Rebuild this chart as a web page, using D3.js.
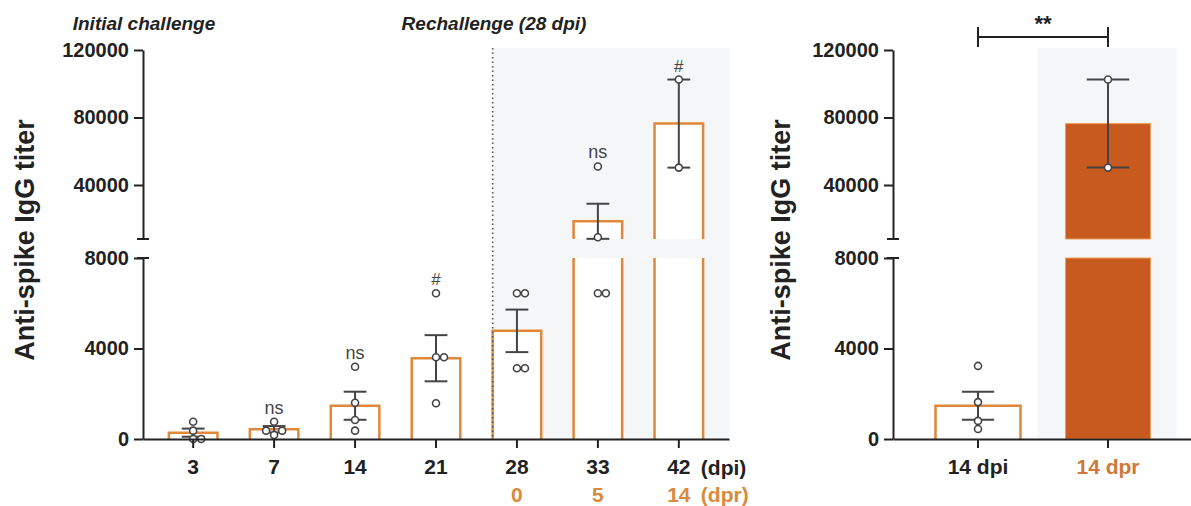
<!DOCTYPE html>
<html>
<head>
<meta charset="utf-8">
<script src="https://cdn.jsdelivr.net/npm/d3@7"></script>
<style>
  body { margin: 0; background: #fff; }
  svg { font-family: "Liberation Sans", Arial, sans-serif; }
</style>
</head>
<body>
<div id="plot"></div>
<script>
// ---- data ----
const dpiLabels = ['3', '7', '14', '21', '28', '33', '42'];
const dprLabels = ['', '', '', '', '0', '5', '14'];
const meanTiter = [280, 430, 1470, 3570, 4780, 18500, 76400];
const semTiter = [180, 140, 620, 1020, 940, 10400, 26100];
const pointsTiter = [
  [0, 0, 370, 765],
  [180, 370, 370, 765],
  [370, 840, 1605, 3195],
  [1580, 3610, 3610, 6440],
  [3125, 3125, 6440, 6440],
  [6440, 6440, 9000, 51000],
  [50300, 102500]
];
const sigMarks = ['', 'ns', 'ns', '#', '', 'ns', '#'];

const compLabels = ['14 dpi', '14 dpr'];
const compMean = [1470, 76400];
const compSem = [620, 26100];
const compPoints = [
  [440, 800, 1630, 3230],
  [50300, 102500]
];

const lowTicks = [0, 4000, 8000];
const highTicks = [40000, 80000, 120000];
const BREAK = 8000;

// ---- page ----
const w = 1191, h = 506;
const orange = '#e0873a';
const dark = '#222';
const grey = '#444';

const svg = d3.select('#plot').append('svg')
  .attr('width', w).attr('height', h);

const yLow = d3.scaleLinear().domain([0, BREAK]).range([439, 258]);
const yHigh = d3.scaleLinear().domain([BREAK, 120000]).range([239, 50]);
const yv = v => v <= BREAK ? yLow(v) : yHigh(v);

const xL = d3.scaleBand().domain(dpiLabels).range([143, 729])
  .paddingInner(0.4).paddingOuter(0.32);
const xR = d3.scaleBand().domain(compLabels).range([893, 1193])
  .paddingInner(0.346).paddingOuter(0.327);

// shaded rechallenge regions
const topY = yHigh(120000) - 2;
svg.append('rect')
  .attr('x', xL('28')).attr('y', topY)
  .attr('width', xL.range()[1] - xL('28')).attr('height', yLow(0) - topY)
  .attr('fill', '#f5f6f8');
const gapR = xR.step() * xR.paddingInner();
svg.append('rect')
  .attr('x', xR('14 dpr') - gapR * 0.62).attr('y', topY)
  .attr('width', xR.bandwidth() + gapR * 1.2).attr('height', yLow(0) - topY)
  .attr('fill', '#f5f6f8');

function drawBar(g, x, bw, mean, filled) {
  const fill = '#c85a20';
  if (filled) {
    g.append('rect').attr('x', x).attr('width', bw)
      .attr('y', yLow(Math.min(mean, BREAK))).attr('height', yLow(0) - yLow(Math.min(mean, BREAK)))
      .attr('fill', fill).attr('stroke', '#f0a060').attr('stroke-width', 1);
    if (mean > BREAK) {
      g.append('rect').attr('x', x).attr('width', bw)
        .attr('y', yHigh(mean)).attr('height', yHigh(BREAK) - yHigh(mean))
        .attr('fill', fill).attr('stroke', '#f0a060').attr('stroke-width', 1);
    }
    return;
  }
  // white interior first, then open outline
  const yTopLow = yLow(Math.min(mean, BREAK));
  g.append('rect').attr('x', x).attr('width', bw)
    .attr('y', yTopLow).attr('height', yLow(0) - yTopLow).attr('fill', '#fff');
  if (mean > BREAK) {
    g.append('rect').attr('x', x).attr('width', bw)
      .attr('y', yHigh(mean)).attr('height', yHigh(BREAK) - yHigh(mean)).attr('fill', '#fff');
  }
  const st = p => p.attr('fill', 'none').attr('stroke', orange).attr('stroke-width', 2.5);
  if (mean <= BREAK) {
    st(g.append('path').attr('d', `M${x},${yLow(0)}V${yLow(mean)}H${x + bw}V${yLow(0)}`));
  } else {
    st(g.append('path').attr('d', `M${x},${yLow(0)}V${yLow(BREAK)}M${x + bw},${yLow(0)}V${yLow(BREAK)}`));
    st(g.append('path').attr('d', `M${x},${yHigh(BREAK)}V${yHigh(mean)}H${x + bw}V${yHigh(BREAK)}`));
  }
}

function drawErr(g, cx, cap, mean, sem) {
  const lo = mean - sem, hi = mean + sem;
  g.append('line').attr('x1', cx).attr('x2', cx)
    .attr('y1', yv(lo)).attr('y2', yv(hi))
    .attr('stroke', grey).attr('stroke-width', 2);
  [lo, hi].forEach(v => {
    g.append('line').attr('x1', cx - cap / 2).attr('x2', cx + cap / 2)
      .attr('y1', yv(v)).attr('y2', yv(v))
      .attr('stroke', grey).attr('stroke-width', 2);
  });
}

// simple swarm so equal values sit side by side
function swarm(vals, cx) {
  const placed = [];
  const steps = [0, 8, -8, 16, -16, 24, -24];
  vals.slice().sort((a, b) => a - b).forEach(v => {
    const y = yv(v);
    for (const s of steps) {
      const x = cx + s;
      if (placed.every(p => Math.hypot(p.x - x, p.y - y) >= 7.5)) {
        placed.push({ x, y, v });
        break;
      }
    }
  });
  return placed;
}

function drawPoints(g, vals, cx) {
  const pts = swarm(vals, cx);
  g.selectAll(null).data(pts).enter().append('circle')
    .attr('cx', d => d.x).attr('cy', d => d.y).attr('r', 3.5)
    .attr('fill', '#fff').attr('stroke', grey).attr('stroke-width', 1.6);
  return pts;
}

// ---- left panel ----
const gL = svg.append('g');
dpiLabels.forEach((k, i) => {
  drawBar(gL, xL(k), xL.bandwidth(), meanTiter[i], false);
});

// dotted divider (drawn over bar 28's left edge)
svg.append('line')
  .attr('x1', xL('28')).attr('x2', xL('28'))
  .attr('y1', topY).attr('y2', yLow(0))
  .attr('stroke', '#555').attr('stroke-width', 1.6)
  .attr('stroke-dasharray', '1.5,3');

dpiLabels.forEach((k, i) => {
  const cx = xL(k) + xL.bandwidth() / 2;
  drawErr(gL, cx, xL.bandwidth() * 0.47, meanTiter[i], semTiter[i]);
  const pts = drawPoints(gL, pointsTiter[i], cx);
  if (sigMarks[i]) {
    const topPt = d3.min(pts, d => d.y);
    gL.append('text').attr('x', cx).attr('y', topPt - 8)
      .attr('text-anchor', 'middle').attr('fill', grey)
      .attr('font-size', sigMarks[i] === '#' ? 17 : 18)
      .text(sigMarks[i]);
  }
});

// ---- right panel ----
const gR = svg.append('g');
compLabels.forEach((k, i) => {
  drawBar(gR, xR(k), xR.bandwidth(), compMean[i], i === 1);
});
compLabels.forEach((k, i) => {
  const cx = xR(k) + xR.bandwidth() / 2;
  drawErr(gR, cx, xR.bandwidth() * (i === 0 ? 0.38 : 0.5), compMean[i], compSem[i]);
  drawPoints(gR, compPoints[i], cx);
});

// ---- axes ----
function yAxes(x0) {
  const a1 = svg.append('g').attr('transform', `translate(${x0},0)`)
    .call(d3.axisLeft(yLow).tickValues(lowTicks).tickFormat(d3.format('d'))
      .tickSize(9).tickSizeOuter(0).tickPadding(5));
  const a2 = svg.append('g').attr('transform', `translate(${x0},0)`)
    .call(d3.axisLeft(yHigh).tickValues(highTicks).tickFormat(d3.format('d'))
      .tickSize(9).tickSizeOuter(0).tickPadding(5));
  [a1, a2].forEach(a => {
    a.selectAll('path,line').attr('stroke', dark).attr('stroke-width', 2);
    a.selectAll('text').attr('font-size', 20).attr('font-weight', 'bold').attr('fill', dark);
  });
  // break caps
  [yHigh(BREAK), yLow(BREAK)].forEach(y => {
    svg.append('line').attr('x1', x0 - 6).attr('x2', x0 + 6)
      .attr('y1', y).attr('y2', y).attr('stroke', dark).attr('stroke-width', 2);
  });
}
yAxes(143);
yAxes(893);

function xAxis(scale) {
  const a = svg.append('g').attr('transform', `translate(0,${yLow(0)})`)
    .call(d3.axisBottom(scale).tickSize(9).tickSizeOuter(0).tickPadding(11));
  a.selectAll('path,line').attr('stroke', dark).attr('stroke-width', 2);
  a.selectAll('text').attr('font-size', 21).attr('font-weight', 'bold').attr('fill', dark);
  return a;
}
xAxis(xL);
const axR = xAxis(xR);
axR.selectAll('text').attr('fill', d => d === '14 dpr' ? '#d0783a' : dark);

// dpr row + unit labels
const c42 = xL('42') + xL.bandwidth() / 2;
svg.append('g').selectAll('text').data(dprLabels.filter(d => d !== ''))
  .enter().append('text')
  .attr('x', d => xL(dpiLabels[dprLabels.indexOf(d)]) + xL.bandwidth() / 2)
  .attr('y', 502).attr('text-anchor', 'middle')
  .attr('font-size', 21).attr('font-weight', 'bold').attr('fill', '#d98a3d')
  .text(d => d);
svg.append('text').attr('x', c42 + 22).attr('y', 475)
  .attr('font-size', 21).attr('font-weight', 'bold').attr('fill', dark).text('(dpi)');
svg.append('text').attr('x', c42 + 22).attr('y', 502)
  .attr('font-size', 21).attr('font-weight', 'bold').attr('fill', '#d98a3d').text('(dpr)');

// axis titles
[25, 781].forEach(x => {
  svg.append('text').attr('transform', `translate(${x},240) rotate(-90)`)
    .attr('text-anchor', 'middle').attr('dy', '0.35em')
    .attr('font-size', 27).attr('font-weight', 'bold').attr('fill', dark)
    .text('Anti-spike IgG titer');
});

// phase titles
svg.append('text').attr('x', 144).attr('y', 30).attr('text-anchor', 'middle')
  .attr('font-size', 19).attr('font-weight', 'bold').attr('font-style', 'italic')
  .attr('fill', dark).text('Initial challenge');
svg.append('text').attr('x', 494).attr('y', 30).attr('text-anchor', 'middle')
  .attr('font-size', 19).attr('font-weight', 'bold').attr('font-style', 'italic')
  .attr('fill', dark).text('Rechallenge (28 dpi)');

// significance bracket
const bx1 = xR('14 dpi') + xR.bandwidth() / 2;
const bx2 = xR('14 dpr') + xR.bandwidth() / 2;
svg.append('path')
  .attr('d', `M${bx1},27V47M${bx1},37H${bx2}M${bx2},27V47`)
  .attr('fill', 'none').attr('stroke', dark).attr('stroke-width', 2);
svg.append('text').attr('x', (bx1 + bx2) / 2).attr('y', 31).attr('text-anchor', 'middle')
  .attr('font-size', 22).attr('font-weight', 'bold').attr('fill', dark).text('**');
</script>
</body>
</html>
